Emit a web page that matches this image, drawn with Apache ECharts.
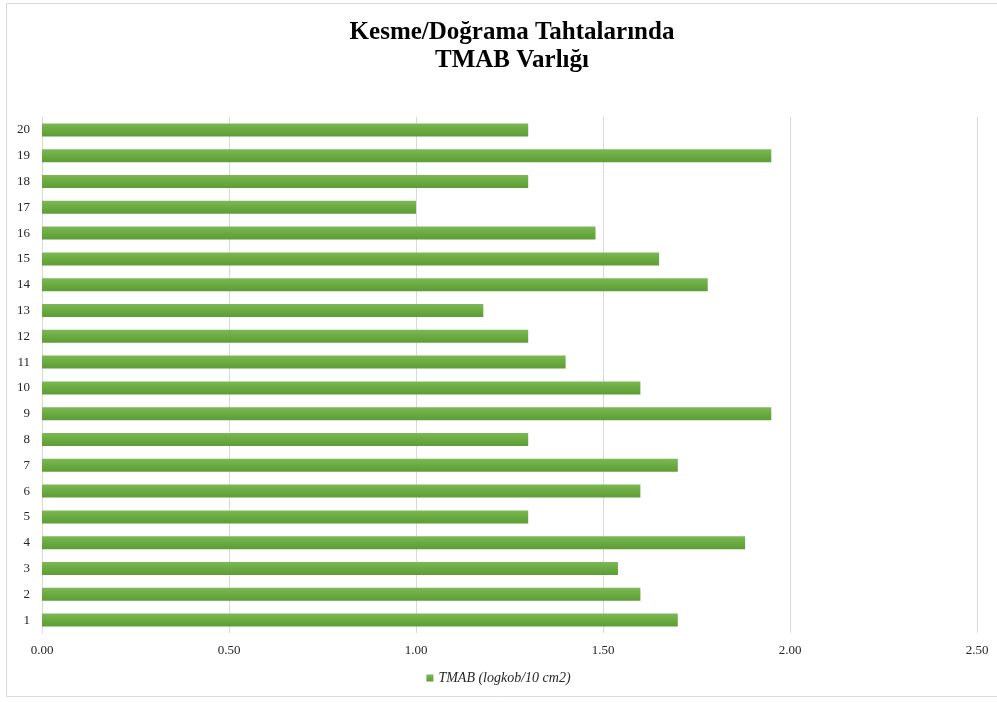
<!DOCTYPE html>
<html>
<head>
<meta charset="utf-8">
<script src="https://cdn.jsdelivr.net/npm/echarts@6/dist/echarts.min.js"></script>
<style>
  html, body { margin: 0; padding: 0; background: #fff; }
  #chart { width: 997px; height: 702px; }
</style>
</head>
<body>
<div id="chart"></div>
<script>
// Sample numbers 1..20 (bottom to top)
const categories = ['1','2','3','4','5','6','7','8','9','10','11','12','13','14','15','16','17','18','19','20'];
// TMAB counts per sample (log cfu / 10 cm2)
const tmabValues = [1.70, 1.60, 1.54, 1.88, 1.30, 1.60, 1.70, 1.30, 1.95, 1.60,
                    1.40, 1.30, 1.18, 1.78, 1.65, 1.48, 1.00, 1.30, 1.95, 1.30];
const seriesName = 'TMAB (logkob/10 cm2)';
const titleText = 'Kesme/Doğrama Tahtalarında\nTMAB Varlığı';

const serif = '"Liberation Serif", "Times New Roman", serif';
const chart = echarts.init(document.getElementById('chart'));

chart.setOption({
  backgroundColor: '#ffffff',
  animation: false,
  graphic: [{
    type: 'rect',
    shape: { x: 6.5, y: 3.5, width: 1010, height: 693 },
    style: { fill: 'none', stroke: '#d9d9d9', lineWidth: 1 },
    silent: true
  }],
  title: {
    text: titleText,
    left: 507,
    textAlign: 'center',
    top: 14,
    textStyle: {
      fontFamily: serif,
      fontWeight: 'bold',
      fontSize: 25,
      lineHeight: 28,
      color: '#000'
    }
  },
  grid: { left: 42, right: 20, top: 117, bottom: 69, containLabel: false },
  legend: {
    bottom: 12,
    left: 'center',
    itemWidth: 7,
    itemHeight: 7,
    itemGap: 4,
    icon: 'rect',
    textStyle: { fontFamily: serif, fontStyle: 'italic', fontSize: 14, color: '#262626' },
    data: [seriesName]
  },
  xAxis: {
    type: 'value',
    min: 0,
    max: 2.5,
    interval: 0.5,
    axisLine: { show: false },
    axisTick: { show: false },
    axisLabel: {
      formatter: v => v.toFixed(2),
      fontFamily: serif,
      fontSize: 13,
      color: '#262626',
      margin: 11
    },
    splitLine: { show: true, lineStyle: { color: '#d9d9d9', width: 1 } }
  },
  yAxis: {
    type: 'category',
    data: categories,
    axisLine: { show: true, lineStyle: { color: '#d9d9d9', width: 1 } },
    axisTick: { show: false },
    axisLabel: { fontFamily: serif, fontSize: 13, color: '#262626', margin: 12 }
  },
  series: [{
    name: seriesName,
    type: 'bar',
    data: tmabValues,
    barWidth: 13,
    itemStyle: {
      color: new echarts.graphic.LinearGradient(0, 0, 0, 1, [
        { offset: 0, color: '#7db857' },
        { offset: 0.5, color: '#6aab40' },
        { offset: 1, color: '#5e9c37' }
      ])
    }
  }]
});
</script>
</body>
</html>
